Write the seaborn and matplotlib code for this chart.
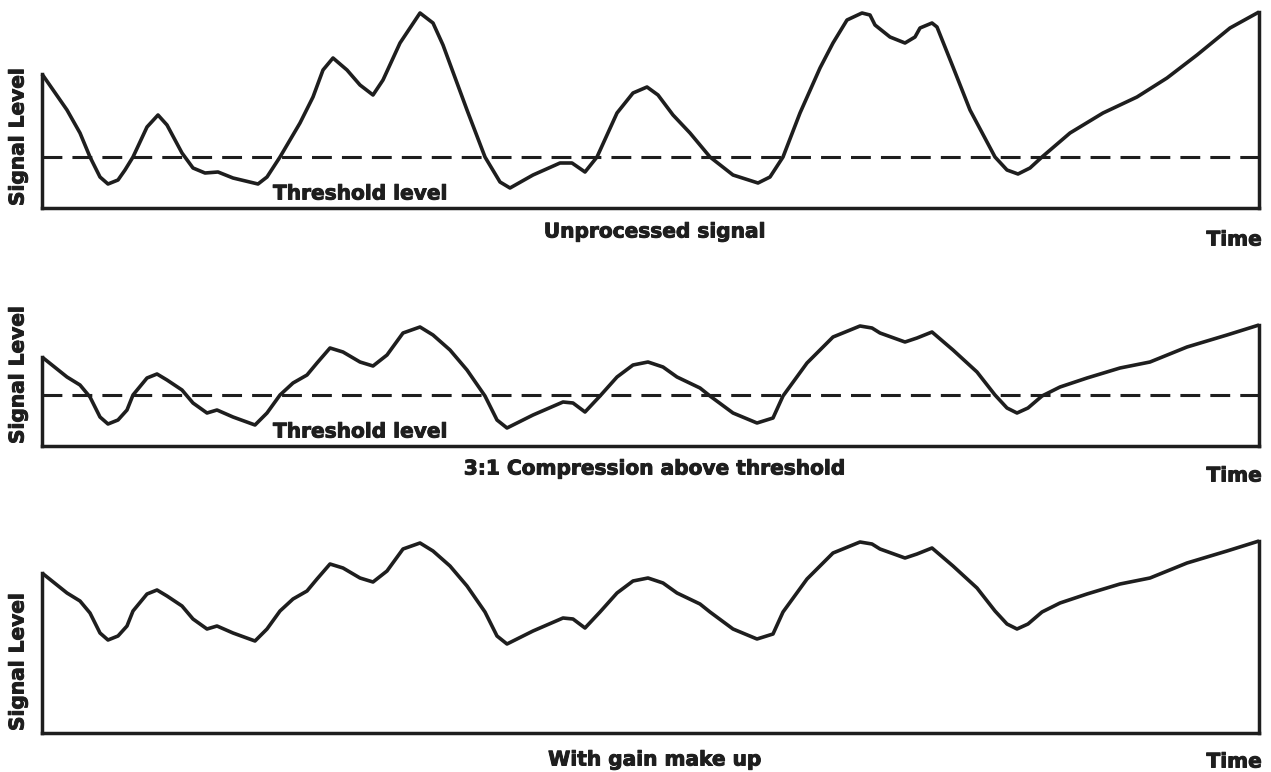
import matplotlib
matplotlib.use("Agg")
import matplotlib.pyplot as plt
import matplotlib.patheffects as pe
import seaborn as sns

# unprocessed signal
t_raw = [0, 25, 38, 48, 58, 66, 76, 83, 91, 105, 116, 125, 140, 151, 163, 176, 191, 216, 225, 238,
         258, 271, 281, 291, 305, 318, 331, 341, 358, 378, 391, 401, 425, 443, 458, 468, 491, 518, 530, 543,
         555, 575, 591, 605, 616, 631, 648, 668, 691, 716, 728, 741, 758, 778, 791, 805, 820, 828, 833, 848,
         863, 873, 878, 890, 895, 911, 928, 953, 965, 976, 988, 1000, 1028, 1061, 1095, 1125, 1155, 1188, 1217]
v_raw = [134, 98, 75, 51, 31, 24, 28, 38, 51, 81, 93, 83, 55, 40, 35, 36, 30, 24, 31, 51,
         85, 111, 138, 150, 138, 123, 113, 128, 165, 195, 185, 163, 98, 51, 26, 20, 33, 45, 45, 36,
         51, 95, 115, 121, 113, 93, 75, 51, 33, 25, 31, 51, 95, 140, 165, 188, 195, 193, 183, 171,
         165, 171, 180, 185, 181, 141, 98, 51, 38, 34, 40, 51, 75, 95, 111, 130, 153, 180, 196]

# 3:1 compression above threshold
t_comp = [0, 25, 38, 48, 58, 66, 76, 85, 91, 105, 115, 125, 140, 151, 165, 175, 191, 213, 225, 238,
          251, 265, 275, 288, 301, 318, 331, 345, 361, 378, 391, 408, 425, 443, 455, 465, 491, 521, 531, 543,
          558, 575, 591, 606, 621, 635, 658, 668, 691, 715, 731, 741, 765, 791, 818, 830, 838, 863, 875, 890,
          911, 935, 953, 965, 975, 986, 1000, 1018, 1045, 1078, 1108, 1145, 1185, 1217]
v_comp = [89, 69, 61, 49, 29, 22, 26, 36, 51, 68, 72, 66, 56, 43, 33, 36, 29, 21, 33, 51,
          63, 71, 83, 98, 94, 84, 80, 91, 113, 119, 111, 96, 76, 50, 26, 18, 31, 44, 43, 34,
          50, 69, 81, 84, 79, 69, 58, 50, 33, 23, 28, 50, 83, 109, 120, 118, 113, 104, 108, 114,
          96, 74, 51, 38, 33, 38, 50, 59, 68, 78, 84, 99, 111, 121]

# with gain make up
v_gain = [160, 140, 132, 120, 100, 93, 97, 107, 122, 139, 143, 137, 127, 114, 104, 107, 100, 92, 104, 122,
          134, 142, 154, 169, 165, 155, 151, 162, 184, 190, 182, 167, 147, 121, 97, 89, 102, 115, 114, 105,
          121, 140, 152, 155, 150, 140, 129, 121, 104, 94, 99, 121, 154, 180, 191, 189, 184, 175, 179, 185,
          167, 145, 122, 109, 104, 109, 121, 130, 139, 149, 155, 170, 182, 192]

threshold = 51

panels = [
    (t_raw, v_raw, 200, 208, "Unprocessed signal", True, 232, 240),
    (t_comp, v_comp, 125, 446, "3:1 Compression above threshold", True, 469, 476),
    (t_comp, v_gain, 195, 733, "With gain make up", False, 760, 762),
]

sns.set_theme(style="white")
plt.rcParams["font.family"] = ["DejaVu Sans"]
ink = "#1e1e1e"
heavy = [pe.withStroke(linewidth=0.7, foreground=ink)]
txt = dict(fontsize=14.5, fontweight="bold", color=ink, path_effects=heavy)
W, H = 1271, 772
fig = plt.figure(figsize=(W / 100, H / 100), dpi=100)

x0, x1 = 42, 1259
for t, v, top, base, caption, show_thr, cap_y, time_y in panels:
    ax = fig.add_axes([x0 / W, (H - base) / H, (x1 - x0) / W, top / H])
    sns.lineplot(x=t, y=v, ax=ax, color=ink, linewidth=2.6, sort=False, clip_on=False,
                 solid_joinstyle="round", solid_capstyle="butt")
    ax.set_xlim(0, t[-1])
    ax.set_ylim(0, top)
    ax.set_xticks([])
    ax.set_yticks([])
    ax.set_xlabel("")
    ax.set_ylabel("")
    ax.spines["top"].set_visible(False)
    for s in ["left", "right", "bottom"]:
        ax.spines[s].set_linewidth(2.5)
        ax.spines[s].set_color(ink)
    ax.spines["left"].set_bounds(0, v[0])
    ax.spines["right"].set_bounds(0, v[-1])
    if show_thr:
        ax.axhline(threshold, color=ink, linewidth=2.2, linestyle=(0, (6.5, 3.3)))
        ax.text(273 - x0, 14, "Threshold level", ha="left", va="center", **txt)
    fig.text(18 / W, (H - base + 2) / H, "Signal Level", rotation=90,
             ha="center", va="bottom", **txt)
    fig.text(655 / W, (H - cap_y) / H, caption, ha="center", va="center", **txt)
    fig.text(1262 / W, (H - time_y) / H, "Time", ha="right", va="center", **txt)

fig.savefig("out.png", dpi=100, facecolor="white")
